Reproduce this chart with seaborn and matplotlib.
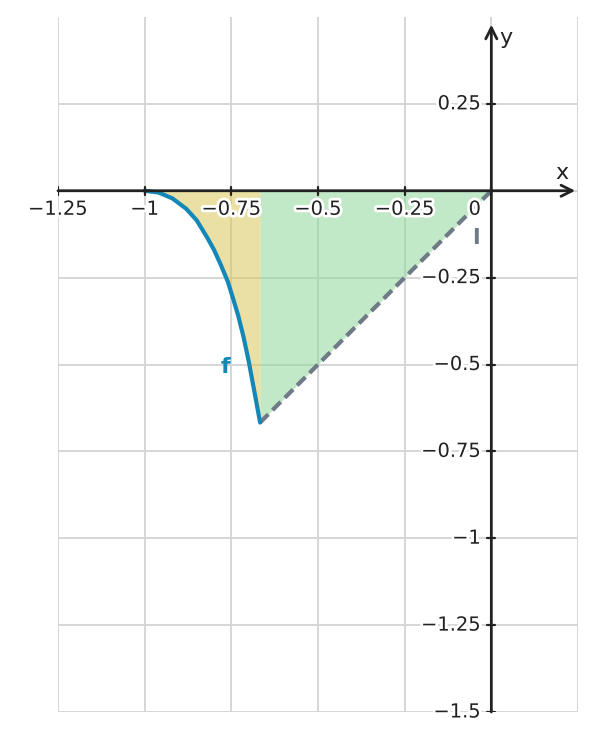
import numpy as np
import matplotlib
import matplotlib.pyplot as plt
import matplotlib.patheffects as pe
import seaborn as sns

sns.set_style("white")
plt.rcParams['font.family'] = ['DejaVu Sans']

# curve f
f_x = [-1.0, -0.96, -0.92, -0.88, -0.85, -0.82, -0.80, -0.78, -0.76,
       -0.745, -0.73, -0.715, -0.70, -0.685, -0.667]
f_y = [0.0, -0.005, -0.022, -0.052, -0.085, -0.134, -0.170, -0.214, -0.262,
       -0.310, -0.360, -0.420, -0.490, -0.570, -0.667]

# line l (dashed)
l_x = [-0.667, 0.0]
l_y = [-0.667, 0.0]

x_ticks = [-1.25, -1.0, -0.75, -0.5, -0.25, 0.0]
x_tick_labels = ['−1.25', '−1', '−0.75', '−0.5', '−0.25', '0']
y_ticks = [-1.5, -1.25, -1.0, -0.75, -0.5, -0.25, 0.25]
y_tick_labels = ['−1.5', '−1.25', '−1', '−0.75', '−0.5', '−0.25', '0.25']
x_grid = [-1.25, -1.0, -0.75, -0.5, -0.25, 0.0, 0.25]
y_grid = [-1.5, -1.25, -1.0, -0.75, -0.5, -0.25, 0.0, 0.25]

blue = '#1387b8'
grey = '#6e7a86'
dark = '#222222'

fig = plt.figure(figsize=(5.97, 7.41), dpi=100)
ax = fig.add_axes([58/597, 1 - 712/741, 520/597, 695/741])
ax.set_xlim(-1.25, 0.25)
ax.set_ylim(-1.5, 0.5)

for gx in x_grid:
    ax.axvline(gx, color='#d6d6d6', lw=1.4, zorder=0)
for gy in y_grid:
    ax.axhline(gy, color='#d6d6d6', lw=1.4, zorder=0)

# shaded regions
ax.fill_between(f_x, f_y, 0, color='#dcc85a', alpha=0.55, lw=0, zorder=1)
ax.fill_between(l_x, l_y, 0, color='#8fd69a', alpha=0.55, lw=0, zorder=1)

sns.lineplot(x=l_x, y=l_y, ax=ax, color=grey, lw=3, sort=False, estimator=None, zorder=3)
ax.lines[-1].set_dashes([2.8, 1.4])
sns.lineplot(x=f_x, y=f_y, ax=ax, color=blue, lw=3, sort=False, estimator=None, zorder=4)

# axes with arrows
for s in ax.spines.values():
    s.set_visible(False)
ax.annotate('', xy=(0.242, 0), xytext=(-1.25, 0),
            arrowprops=dict(arrowstyle='->', color=dark, lw=2, shrinkA=0, shrinkB=0,
                            mutation_scale=20), zorder=5)
ax.annotate('', xy=(0, 0.478), xytext=(0, -1.5),
            arrowprops=dict(arrowstyle='->', color=dark, lw=2, shrinkA=0, shrinkB=0,
                            mutation_scale=20), zorder=5)

halo = [pe.withStroke(linewidth=4, foreground='white')]
ax.set_xticks([])
ax.set_yticks([])
for v, lab in zip(x_ticks, x_tick_labels):
    ax.plot([v, v], [-0.012, 0.012], color=dark, lw=1.6, zorder=5)
    dx = -0.048 if lab == '0' else 0
    ax.text(v + dx, -0.026, lab, ha='center', va='top', fontsize=14, color=dark,
            path_effects=halo, zorder=6)
for v, lab in zip(y_ticks, y_tick_labels):
    ax.plot([-0.012, 0.012], [v, v], color=dark, lw=1.6, zorder=5)
    ax.text(-0.03, v, lab, ha='right', va='center', fontsize=14, color=dark,
            path_effects=halo, zorder=6)

ax.text(0.205, 0.052, 'x', fontsize=16, color=dark, ha='center', va='center')
ax.text(0.043, 0.44, 'y', fontsize=16, color=dark, ha='center', va='center')
ax.text(-0.767, -0.507, 'f', fontsize=16, color=blue, fontweight='bold',
        ha='center', va='center')
ax.text(-0.043, -0.135, 'l', fontsize=16, color=grey, fontweight='bold',
        ha='center', va='center')

fig.savefig('out.png', dpi=100)
